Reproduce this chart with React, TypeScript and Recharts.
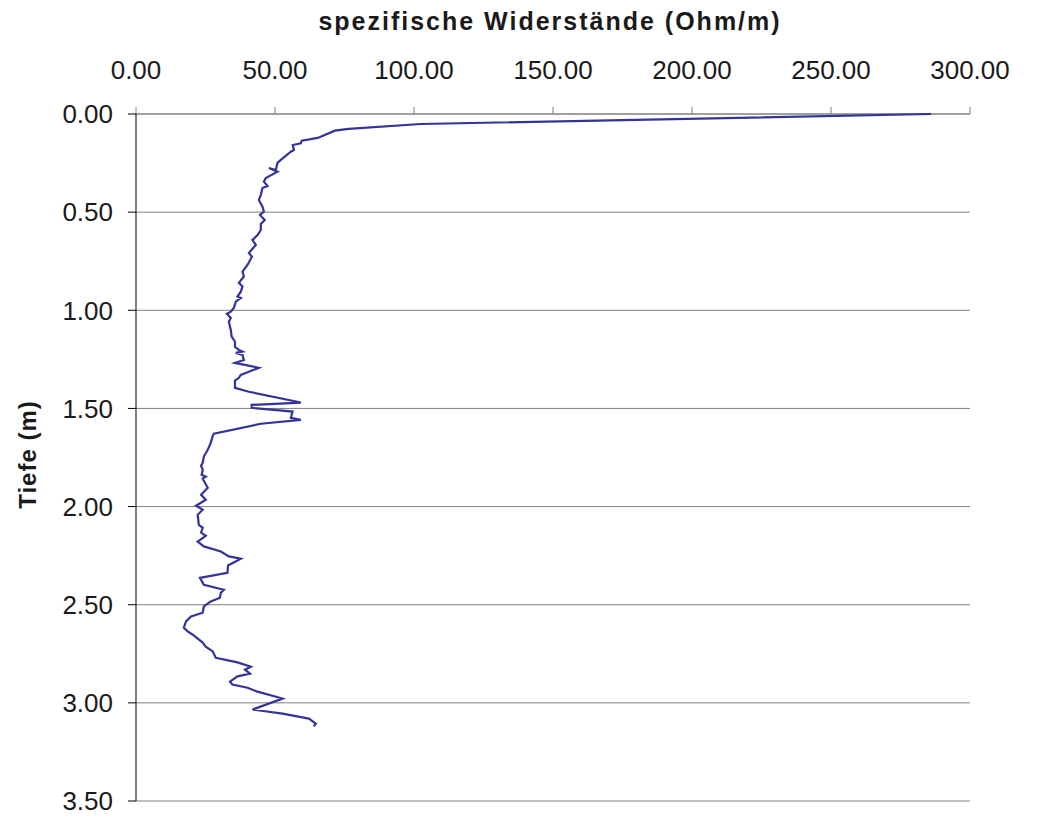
import React from 'react';
import { ScatterChart, Scatter, XAxis, YAxis, CartesianGrid } from 'recharts';

const depths = [
  0.000, 0.051, 0.076, 0.085, 0.122, 0.136, 0.149, 0.158, 0.183, 0.192,
  0.234, 0.249, 0.285, 0.275, 0.294, 0.326, 0.345, 0.367, 0.377, 0.412,
  0.438, 0.472, 0.497, 0.514, 0.540, 0.560, 0.591, 0.616, 0.642, 0.667,
  0.708, 0.727, 0.769, 0.803, 0.828, 0.860, 0.879, 0.905, 0.930, 0.937,
  0.956, 0.988, 1.007, 1.018, 1.039, 1.058, 1.100, 1.134, 1.159, 1.186,
  1.202, 1.210, 1.217, 1.227, 1.253, 1.268, 1.293, 1.329, 1.344, 1.358,
  1.395, 1.415, 1.470, 1.482, 1.497, 1.516, 1.548, 1.558, 1.578, 1.629,
  1.640, 1.675, 1.711, 1.745, 1.777, 1.792, 1.813, 1.838, 1.848, 1.858,
  1.904, 1.940, 1.965, 1.996, 2.016, 2.042, 2.093, 2.108, 2.133, 2.149,
  2.178, 2.203, 2.229, 2.254, 2.266, 2.300, 2.337, 2.363, 2.398, 2.424,
  2.439, 2.464, 2.483, 2.509, 2.541, 2.560, 2.585, 2.617, 2.636, 2.653,
  2.693, 2.714, 2.738, 2.770, 2.794, 2.816, 2.831, 2.851, 2.865, 2.892,
  2.907, 2.923, 2.943, 2.978, 3.034, 3.055, 3.080, 3.106, 3.120,
];

const resistivity = [
  286.0, 102.4, 76.5, 71.5, 65.4, 59.6, 59.3, 56.4, 56.8, 55.7,
  52.1, 50.9, 50.3, 47.8, 50.9, 46.7, 46.0, 47.3, 45.5, 44.9,
  44.2, 45.5, 46.0, 44.6, 46.3, 44.9, 44.9, 43.8, 41.9, 43.1,
  40.6, 41.7, 40.1, 38.3, 38.8, 37.0, 38.3, 37.7, 36.5, 37.7,
  35.9, 35.2, 34.1, 32.7, 34.1, 33.4, 34.1, 34.4, 35.6, 35.6,
  37.0, 38.3, 35.9, 38.3, 38.8, 35.6, 44.2, 37.7, 37.0, 35.6,
  35.6, 40.6, 59.3, 41.6, 41.6, 56.3, 55.7, 59.3, 44.9, 28.0,
  27.6, 26.9, 25.8, 24.4, 24.0, 23.4, 24.0, 23.6, 25.1, 24.0,
  25.8, 23.4, 25.1, 21.6, 24.0, 22.2, 22.6, 24.0, 23.4, 25.1,
  22.2, 24.4, 30.5, 33.4, 37.7, 33.1, 32.9, 23.0, 24.4, 31.6,
  30.5, 30.2, 26.9, 24.4, 24.0, 19.8, 18.0, 17.2, 18.6, 20.4,
  24.0, 25.1, 27.6, 28.7, 36.5, 41.3, 39.2, 41.0, 36.5, 33.8,
  34.7, 40.1, 43.7, 52.7, 41.9, 52.7, 62.2, 64.7, 63.9,
];

const xTicks = [0, 50, 100, 150, 200, 250, 300];
const yTicks = [0, 0.5, 1, 1.5, 2, 2.5, 3, 3.5];

const data = depths.map((d, i) => ({ depth: d, ohm: resistivity[i] }));

const FONT = '"Liberation Sans", Arial, sans-serif';

export default function App() {
  return (
    <div style={{ width: 1026, height: 809 }}>
      <ScatterChart
        width={1026}
        height={809}
        margin={{ top: 46, right: 64, bottom: 16, left: 0 }}
      >
        <CartesianGrid vertical={false} stroke="#808080" strokeWidth={1} />
        <XAxis
          xAxisId={0}
          type="number"
          dataKey="ohm"
          orientation="top"
          domain={[0, 300]}
          ticks={xTicks}
          interval={0}
          height={60}
          tickSize={7}
          tickMargin={28}
          tickFormatter={(v: number) => v.toFixed(2)}
          stroke="#808080"
          tick={{ fill: '#1a1a1a', fontSize: 26, fontFamily: FONT }}
          label={{
            value: 'spezifische Widerstände (Ohm/m)',
            position: 'top',
            offset: 24,
            dx: -3,
            style: { fontSize: 25, fontWeight: 'bold', fontFamily: FONT, fill: '#1a1a1a', letterSpacing: 2 },
          }}
        />
        <YAxis
          yAxisId={0}
          type="number"
          dataKey="depth"
          reversed
          domain={[0, 3.5]}
          ticks={yTicks}
          interval={0}
          width={128}
          tickSize={8}
          tickMargin={15}
          tickFormatter={(v: number) => v.toFixed(2)}
          stroke="#000000"
          tick={{ fill: '#1a1a1a', fontSize: 26, fontFamily: FONT }}
          label={{
            value: 'Tiefe (m)',
            position: 'insideLeft',
            angle: -90,
            offset: 19,
            dy: -3,
            style: { fontSize: 24, fontWeight: 'bold', fontFamily: FONT, fill: '#1a1a1a', letterSpacing: 1, textAnchor: 'middle' },
          }}
        />
        <Scatter
          data={data}
          fill="#333399"
          line={{ stroke: '#333399', strokeWidth: 2.2 }}
          lineJointType="linear"
          shape={() => <g />}
          isAnimationActive={false}
        />
      </ScatterChart>
    </div>
  );
}
